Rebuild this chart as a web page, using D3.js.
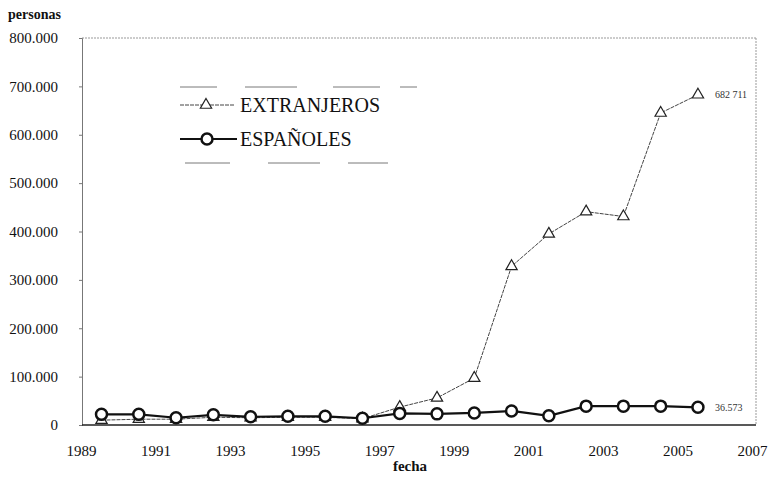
<!DOCTYPE html>
<html>
<head>
<meta charset="utf-8">
<script src="https://cdn.jsdelivr.net/npm/d3@7"></script>
<style>
  body { margin: 0; background: #fff; }
  svg, svg text { font-family: 'Liberation Serif', Tinos, 'Times New Roman', Times, 'DejaVu Serif', serif !important; }
</style>
</head>
<body>
<svg id="chart" width="769" height="478"></svg>
<script>
// Data
const years = [1989, 1990, 1991, 1992, 1993, 1994, 1995, 1996, 1997, 1998, 1999, 2000, 2001, 2002, 2003, 2004, 2005];
const extranjeros = [10000, 12000, 12000, 16000, 15000, 16000, 16000, 13000, 37000, 56000, 97000, 328000, 395000, 441000, 431000, 645000, 682711];
const espanoles = [22000, 22000, 15000, 21000, 17000, 18000, 18000, 14000, 24000, 23000, 25000, 29000, 19000, 39000, 39000, 39000, 36573];
const yTicks = [0, 100000, 200000, 300000, 400000, 500000, 600000, 700000, 800000];
const xTicks = [1989, 1991, 1993, 1995, 1997, 1999, 2001, 2003, 2005, 2007];
const seriesNames = ['EXTRANJEROS', 'ESPAÑOLES'];
const endLabels = ['682 711', '36.573'];

(function() {
    const svg = d3.select('#chart');
    const left = 82, right = 756, top = 38, bottom = 425;

    const x = d3.scaleLinear().domain([1989, 2007]).range([81, 752]);
    const y = d3.scaleLinear().domain([0, 800000]).range([bottom, top]);
    const xPos = d => x(d + 0.55);

    const locale = d3.formatLocale({decimal: ',', thousands: '.', grouping: [3], currency: ['', '']});
    const fmt = locale.format(',d');

    // frame: dotted top and right edges
    svg.append('line').attr('x1', left).attr('x2', right).attr('y1', top).attr('y2', top)
        .attr('stroke', '#999').attr('stroke-width', 1).attr('stroke-dasharray', '2,1');
    svg.append('line').attr('x1', right).attr('x2', right).attr('y1', top).attr('y2', bottom)
        .attr('stroke', '#999').attr('stroke-width', 1).attr('stroke-dasharray', '2,1');

    // y axis
    const yAxis = svg.append('g').attr('transform', `translate(${left},0)`)
        .call(d3.axisLeft(y).tickValues(yTicks).tickSize(3).tickFormat(fmt));
    yAxis.attr('font-family', null);
    yAxis.select('.domain').attr('stroke', '#777');
    yAxis.selectAll('.tick line').attr('stroke', '#777');
    yAxis.selectAll('.tick text').attr('x', -24).attr('font-size', 15).attr('fill', '#111');

    // x axis
    const xAxis = svg.append('g').attr('transform', `translate(0,${bottom})`)
        .call(d3.axisBottom(x).tickValues(xTicks).tickSize(0).tickFormat(d3.format('d')));
    xAxis.attr('font-family', null);
    xAxis.select('.domain').attr('stroke', '#222').attr('stroke-width', 1.5)
        .attr('d', `M${left},0H${right}`);
    xAxis.selectAll('.tick text').attr('y', 31).attr('dy', 0).attr('font-size', 15).attr('fill', '#111');

    // axis titles
    svg.append('text').attr('x', 8).attr('y', 19).attr('font-size', 14).attr('font-weight', 'bold')
        .attr('fill', '#111').text('personas');
    svg.append('text').attr('x', 410).attr('y', 471).attr('text-anchor', 'middle')
        .attr('font-size', 15).attr('font-weight', 'bold').attr('fill', '#111').text('fecha');

    const line = d3.line().x(d => xPos(d[0])).y(d => y(d[1]));
    const triangle = d3.symbol().type(d3.symbolTriangle).size(55);

    // EXTRANJEROS
    const extData = years.map((d, i) => [d, extranjeros[i]]);
    svg.append('path').datum(extData).attr('d', line).attr('fill', 'none')
        .attr('stroke', '#444').attr('stroke-width', 1).attr('stroke-dasharray', '4,1');
    svg.append('g').selectAll('path').data(extData).enter().append('path')
        .attr('d', triangle)
        .attr('transform', d => `translate(${xPos(d[0])},${y(d[1])})`)
        .attr('fill', '#fff').attr('stroke', '#222').attr('stroke-width', 1.2);

    // ESPAÑOLES
    const espData = years.map((d, i) => [d, espanoles[i]]);
    svg.append('path').datum(espData).attr('d', line).attr('fill', 'none')
        .attr('stroke', '#111').attr('stroke-width', 2.2);
    svg.append('g').selectAll('circle').data(espData).enter().append('circle')
        .attr('cx', d => xPos(d[0])).attr('cy', d => y(d[1])).attr('r', 5.5)
        .attr('fill', '#fff').attr('stroke', '#111').attr('stroke-width', 2.5);

    // end labels
    const lastYear = years[years.length - 1];
    [extranjeros, espanoles].forEach((vals, i) => {
        svg.append('text').attr('x', xPos(lastYear) + 17).attr('y', y(vals[vals.length - 1]))
            .attr('dy', '0.35em').attr('font-size', 10).attr('fill', '#333').text(endLabels[i]);
    });

    // legend
    const legend = svg.append('g').attr('class', 'legend');
    legend.append('line').attr('x1', 180).attr('x2', 418).attr('y1', 87).attr('y2', 87)
        .attr('stroke', '#555').attr('stroke-width', 0.8).attr('stroke-dasharray', '37,28,52,36,47,20,17');
    legend.append('line').attr('x1', 185).attr('x2', 390).attr('y1', 163).attr('y2', 163)
        .attr('stroke', '#555').attr('stroke-width', 0.8).attr('stroke-dasharray', '45,38,52,28,40');

    const rows = [{y: 105}, {y: 139}];
    legend.append('line').attr('x1', 180).attr('x2', 235).attr('y1', rows[0].y).attr('y2', rows[0].y)
        .attr('stroke', '#444').attr('stroke-width', 1).attr('stroke-dasharray', '4,1');
    legend.append('path').attr('d', triangle).attr('transform', `translate(206,${rows[0].y})`)
        .attr('fill', '#fff').attr('stroke', '#222').attr('stroke-width', 1.2);
    legend.append('line').attr('x1', 180).attr('x2', 237).attr('y1', rows[1].y).attr('y2', rows[1].y)
        .attr('stroke', '#111').attr('stroke-width', 2.2);
    legend.append('circle').attr('cx', 207).attr('cy', rows[1].y).attr('r', 5.5)
        .attr('fill', '#fff').attr('stroke', '#111').attr('stroke-width', 2.5);
    rows.forEach((r, i) => {
        legend.append('text').attr('x', 240).attr('y', r.y).attr('dy', '0.35em')
            .attr('font-size', 20).attr('fill', '#111').text(seriesNames[i]);
    });
})();
</script>
</body>
</html>
